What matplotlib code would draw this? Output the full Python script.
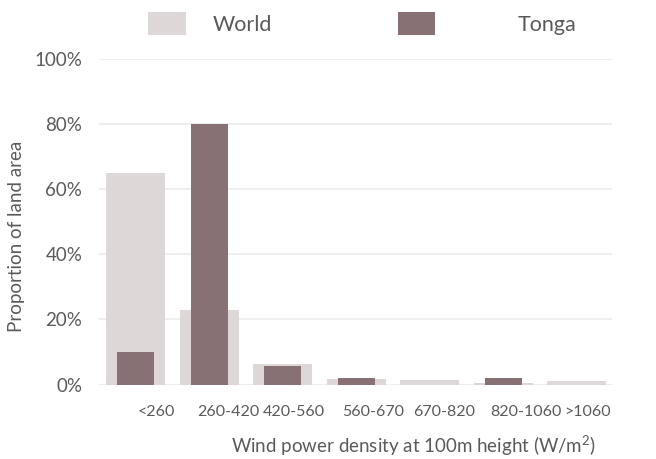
import matplotlib.pyplot as plt
import numpy as np

# data (share of land area, %)
categories = ['<260', '260-420', '420-560', '560-670', '670-820', '820-1060', '>1060']
world = [65, 23, 6.2, 1.6, 1.3, 0.5, 1.2]
tonga = [10, 80, 5.8, 2, 0, 2, 0]

# label nudges (the original labels sit a bit right of the bars)
label_shift = [0.28, 0.26, 0.15, 0.23, 0.20, 0.31, 0.15]

plt.rcParams['font.family'] = ['Lato', 'DejaVu Sans']
plt.rcParams['mathtext.default'] = 'regular'
txt = '#5a5a5a'

fig = plt.figure(figsize=(6.56, 4.59), dpi=100)
ax = fig.add_axes([99/656, 1 - 384.5/459, (612-99)/656, 326/459])

x = np.arange(len(categories))
bw = ax.bar(x, world, width=0.8, color='#ddd7d8', zorder=2)
bt = ax.bar(x, tonga, width=0.5, color='#877174', zorder=3)

ax.set_xlim(-0.5, 6.48)
ax.set_ylim(0, 100)
ax.set_yticks(range(0, 101, 20))
ax.set_yticklabels([f'{v}%' for v in range(0, 101, 20)], fontsize=13.5, color=txt)
ax.yaxis.grid(True, color='#eeeeee', linewidth=1.5, zorder=0)
ax.tick_params(axis='both', length=0, pad=12)

ax.set_xticks(x + np.array(label_shift))
ax.set_xticklabels(categories, fontsize=11.5, color=txt)
ax.tick_params(axis='x', pad=15)

for s in ax.spines.values():
    s.set_visible(False)

ax.set_ylabel('Proportion of land area', fontsize=13.5, color=txt)
ax.yaxis.set_label_coords(-0.145, 0.454)
ax.set_xlabel('Wind power density at 100m height (W/m$^2$)', fontsize=13.5, color=txt)
ax.xaxis.set_label_coords(0.612, -0.15)

# two legend entries, placed separately like the original
leg1 = fig.legend([bw], ['World'], loc='upper left', bbox_to_anchor=(148/656, 1 - 12/459),
                  frameon=False, fontsize=15.5, borderpad=0, borderaxespad=0,
                  handlelength=1.75, handleheight=1.25, handletextpad=1.25, labelcolor=txt)
leg2 = fig.legend([bt], ['Tonga'], loc='upper left', bbox_to_anchor=(398/656, 1 - 12/459),
                  frameon=False, fontsize=15.5, borderpad=0, borderaxespad=0,
                  handlelength=1.7, handleheight=1.25, handletextpad=3.85, labelcolor=txt)

plt.savefig('out.png', dpi=100)
